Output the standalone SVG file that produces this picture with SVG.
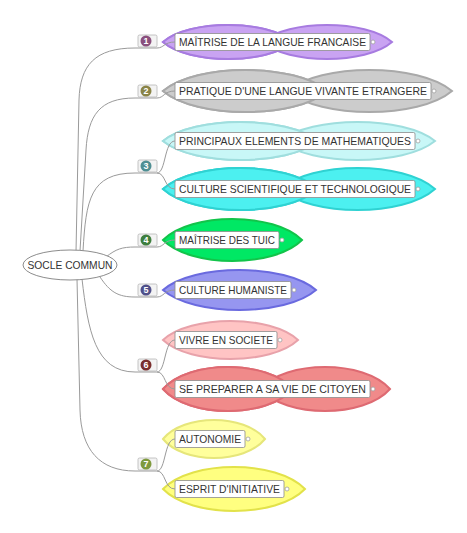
<svg xmlns="http://www.w3.org/2000/svg" xmlns:xlink="http://www.w3.org/1999/xlink" width="467" height="533" viewBox="0 0 467 533">
<style>
.lens{stroke-width:2}
.so{fill:none;stroke-width:2}
.box{fill:#fff;stroke:#8c8c8c;stroke-width:0.8}
.t{font-family:"Liberation Sans",Arial,sans-serif;font-size:10.5px;fill:#333}
.dot{fill:#fff;stroke:#a0a0a0;stroke-width:0.8}
.bb{fill:#f3f3f3;stroke:#b5b5b5;stroke-width:0.8}
.bn{font-family:"Liberation Sans",Arial,sans-serif;font-size:9px;font-weight:bold;fill:#fff;text-anchor:middle}
.c{fill:none;stroke:#9a9a9a;stroke-width:1}
</style>
<rect width="467" height="533" fill="#fff"/>

<g id="n1">
<path id="p1a" class="lens" fill="#c9a3f2" stroke="#a77be0" d="M163,42 C189,19.33 267,19.33 293,42 C267,64.67 189,64.67 163,42Z"/>
<path class="lens" fill="#c9a3f2" stroke="#a77be0" d="M262,42 C288,19.33 366,19.33 392,42 C366,64.67 288,64.67 262,42Z"/>
<use xlink:href="#p1a" class="so" fill="none"/>
<rect class="box" x="175" y="33.5" width="195" height="17" rx="1.5"/>
<text class="t" x="179" y="45.8" textLength="187" lengthAdjust="spacingAndGlyphs">MAÎTRISE DE LA LANGUE FRANCAISE</text>
<circle class="dot" cx="373" cy="42" r="2"/>
</g>

<g id="n2">
<path id="p2a" class="lens" fill="#cccccc" stroke="#a9a9a9" d="M163,91 C196,63 295,63 328,91 C295,119 196,119 163,91Z"/>
<path class="lens" fill="#cccccc" stroke="#a9a9a9" d="M287,91 C320,63 419,63 452,91 C419,119 320,119 287,91Z"/>
<use xlink:href="#p2a" class="so" fill="none"/>
<rect class="box" x="175" y="82.5" width="256" height="17" rx="1.5"/>
<text class="t" x="179" y="94.8" textLength="248" lengthAdjust="spacingAndGlyphs">PRATIQUE D'UNE LANGUE VIVANTE ETRANGERE</text>
<circle class="dot" cx="434" cy="91" r="2"/>
</g>

<g id="n3a">
<path id="p3a" class="lens" fill="#c8f7f7" stroke="#9fdede" d="M163,141 C194,115.67 287,115.67 318,141 C287,166.33 194,166.33 163,141Z"/>
<path class="lens" fill="#c8f7f7" stroke="#9fdede" d="M280,141 C311,115.67 404,115.67 435,141 C404,166.33 311,166.33 280,141Z"/>
<use xlink:href="#p3a" class="so" fill="none"/>
<rect class="box" x="175" y="132.5" width="240" height="17" rx="1.5"/>
<text class="t" x="179" y="144.8" textLength="232" lengthAdjust="spacingAndGlyphs">PRINCIPAUX ELEMENTS DE MATHEMATIQUES</text>
<circle class="dot" cx="418" cy="141" r="2"/>
</g>

<g id="n3b">
<path id="p3b" class="lens" fill="#4cf0f0" stroke="#2fd2d2" d="M163,189 C194,161 287,161 318,189 C287,217 194,217 163,189Z"/>
<path class="lens" fill="#4cf0f0" stroke="#2fd2d2" d="M280,189 C311,161 404,161 435,189 C404,217 311,217 280,189Z"/>
<use xlink:href="#p3b" class="so" fill="none"/>
<rect class="box" x="175" y="180.5" width="240" height="17" rx="1.5"/>
<text class="t" x="179" y="192.8" textLength="232" lengthAdjust="spacingAndGlyphs">CULTURE SCIENTIFIQUE ET TECHNOLOGIQUE</text>
<circle class="dot" cx="418" cy="189" r="2"/>
</g>

<g id="n4">
<path class="lens" fill="#00e864" stroke="#12c44a" d="M163,240 C190.8,212 274.2,212 302,240 C274.2,268 190.8,268 163,240Z"/>
<rect class="box" x="175" y="231.5" width="104" height="17" rx="1.5"/>
<text class="t" x="179" y="243.8" textLength="96" lengthAdjust="spacingAndGlyphs">MAÎTRISE DES TUIC</text>
<circle class="dot" cx="282" cy="240" r="2"/>
</g>

<g id="n5">
<path class="lens" fill="#9696f0" stroke="#6a6adf" d="M163,290 C193.6,263.33 285.4,263.33 316,290 C285.4,316.67 193.6,316.67 163,290Z"/>
<rect class="box" x="175" y="281.5" width="116" height="17" rx="1.5"/>
<text class="t" x="179" y="293.8" textLength="108" lengthAdjust="spacingAndGlyphs">CULTURE HUMANISTE</text>
<circle class="dot" cx="294" cy="290" r="2"/>
</g>

<g id="n6a">
<path class="lens" fill="#ffc4c4" stroke="#e8a2aa" d="M163,340 C190,314.67 271,314.67 298,340 C271,365.33 190,365.33 163,340Z"/>
<rect class="box" x="175" y="331.5" width="102" height="17" rx="1.5"/>
<text class="t" x="179" y="343.8" textLength="94" lengthAdjust="spacingAndGlyphs">VIVRE EN SOCIETE</text>
<circle class="dot" cx="280" cy="340" r="2"/>
</g>

<g id="n6b">
<path id="p6b" class="lens" fill="#f08a8a" stroke="#de6a72" d="M163,389 C189,359.67 267,359.67 293,389 C267,418.33 189,418.33 163,389Z"/>
<path class="lens" fill="#f08a8a" stroke="#de6a72" d="M260,389 C286,359.67 364,359.67 390,389 C364,418.33 286,418.33 260,389Z"/>
<use xlink:href="#p6b" class="so" fill="none"/>
<rect class="box" x="175" y="380.5" width="195" height="17" rx="1.5"/>
<text class="t" x="179" y="392.8" textLength="187" lengthAdjust="spacingAndGlyphs">SE PREPARER A SA VIE DE CITOYEN</text>
<circle class="dot" cx="373" cy="389" r="2"/>
</g>

<g id="n7a">
<path class="lens" fill="#ffff9c" stroke="#e6e67a" d="M163,439 C183.4,413.67 244.6,413.67 265,439 C244.6,464.33 183.4,464.33 163,439Z"/>
<rect class="box" x="175" y="430.5" width="70" height="17" rx="1.5"/>
<text class="t" x="179" y="442.8" textLength="62" lengthAdjust="spacingAndGlyphs">AUTONOMIE</text>
<circle class="dot" cx="248" cy="439" r="2"/>
</g>

<g id="n7b">
<path class="lens" fill="#ffff80" stroke="#e2e24a" d="M163,489 C191.4,459.67 276.6,459.67 305,489 C276.6,518.33 191.4,518.33 163,489Z"/>
<rect class="box" x="175" y="480.5" width="109" height="17" rx="1.5"/>
<text class="t" x="179" y="492.8" textLength="101" lengthAdjust="spacingAndGlyphs">ESPRIT D'INITIATIVE</text>
<circle class="dot" cx="287" cy="489" r="2"/>
</g>

<g id="connectors">
<path class="c" d="M76,252 L79,100 C80,65 95,48 135,48 L157,48 C164,48 164,42 175,42"/>
<path class="c" d="M80,251 L86,150 C88,115 100,98 135,98 L157,98 C164,98 164,91 175,91"/>
<path class="c" d="M83,251 C86,200 90,173 135,173 L157,173"/>
<path class="c" d="M157,173 C166,173 164,141 175,141"/>
<path class="c" d="M157,173 C166,173 164,189 175,189"/>
<path class="c" d="M106,257 C116,249 122,247 135,247 L157,247 C164,247 164,240 175,240"/>
<path class="c" d="M100,277 C110,292 118,297 135,297 L157,297 C164,297 164,290 175,290"/>
<path class="c" d="M82,279 C88,330 95,372 135,372 L157,372"/>
<path class="c" d="M157,372 C166,372 164,340 175,340"/>
<path class="c" d="M157,372 C166,372 164,389 175,389"/>
<path class="c" d="M77,279 L80,410 C81,450 100,471 135,471 L157,471"/>
<path class="c" d="M157,471 C166,471 164,439 175,439"/>
<path class="c" d="M157,471 C166,471 164,489 175,489"/>
</g>

<g id="badges">
<g id="b1"><rect class="bb" x="138" y="35" width="19" height="12" rx="1.5"/><circle cx="146" cy="41" r="5.5" fill="#8a4f7d"/><text class="bn" x="146" y="44.2">1</text></g>
<g id="b2"><rect class="bb" x="138" y="85" width="19" height="12" rx="1.5"/><circle cx="146" cy="91" r="5.5" fill="#8a8447"/><text class="bn" x="146" y="94.2">2</text></g>
<g id="b3"><rect class="bb" x="138" y="160" width="19" height="12" rx="1.5"/><circle cx="146" cy="166" r="5.5" fill="#4f8f93"/><text class="bn" x="146" y="169.2">3</text></g>
<g id="b4"><rect class="bb" x="138" y="234" width="19" height="12" rx="1.5"/><circle cx="146" cy="240" r="5.5" fill="#3f7f3f"/><text class="bn" x="146" y="243.2">4</text></g>
<g id="b5"><rect class="bb" x="138" y="284" width="19" height="12" rx="1.5"/><circle cx="146" cy="290" r="5.5" fill="#50508a"/><text class="bn" x="146" y="293.2">5</text></g>
<g id="b6"><rect class="bb" x="138" y="359" width="19" height="12" rx="1.5"/><circle cx="146" cy="365" r="5.5" fill="#7a2e2e"/><text class="bn" x="146" y="368.2">6</text></g>
<g id="b7"><rect class="bb" x="138" y="458" width="19" height="12" rx="1.5"/><circle cx="146" cy="464" r="5.5" fill="#7f9a3e"/><text class="bn" x="146" y="467.2">7</text></g>
</g>

<g id="root">
<ellipse cx="70" cy="265" rx="47" ry="15" fill="#fff" stroke="#8c8c8c" stroke-width="1"/>
<text class="t" x="70" y="269" text-anchor="middle" textLength="85" lengthAdjust="spacingAndGlyphs">SOCLE COMMUN</text>
</g>
</svg>
